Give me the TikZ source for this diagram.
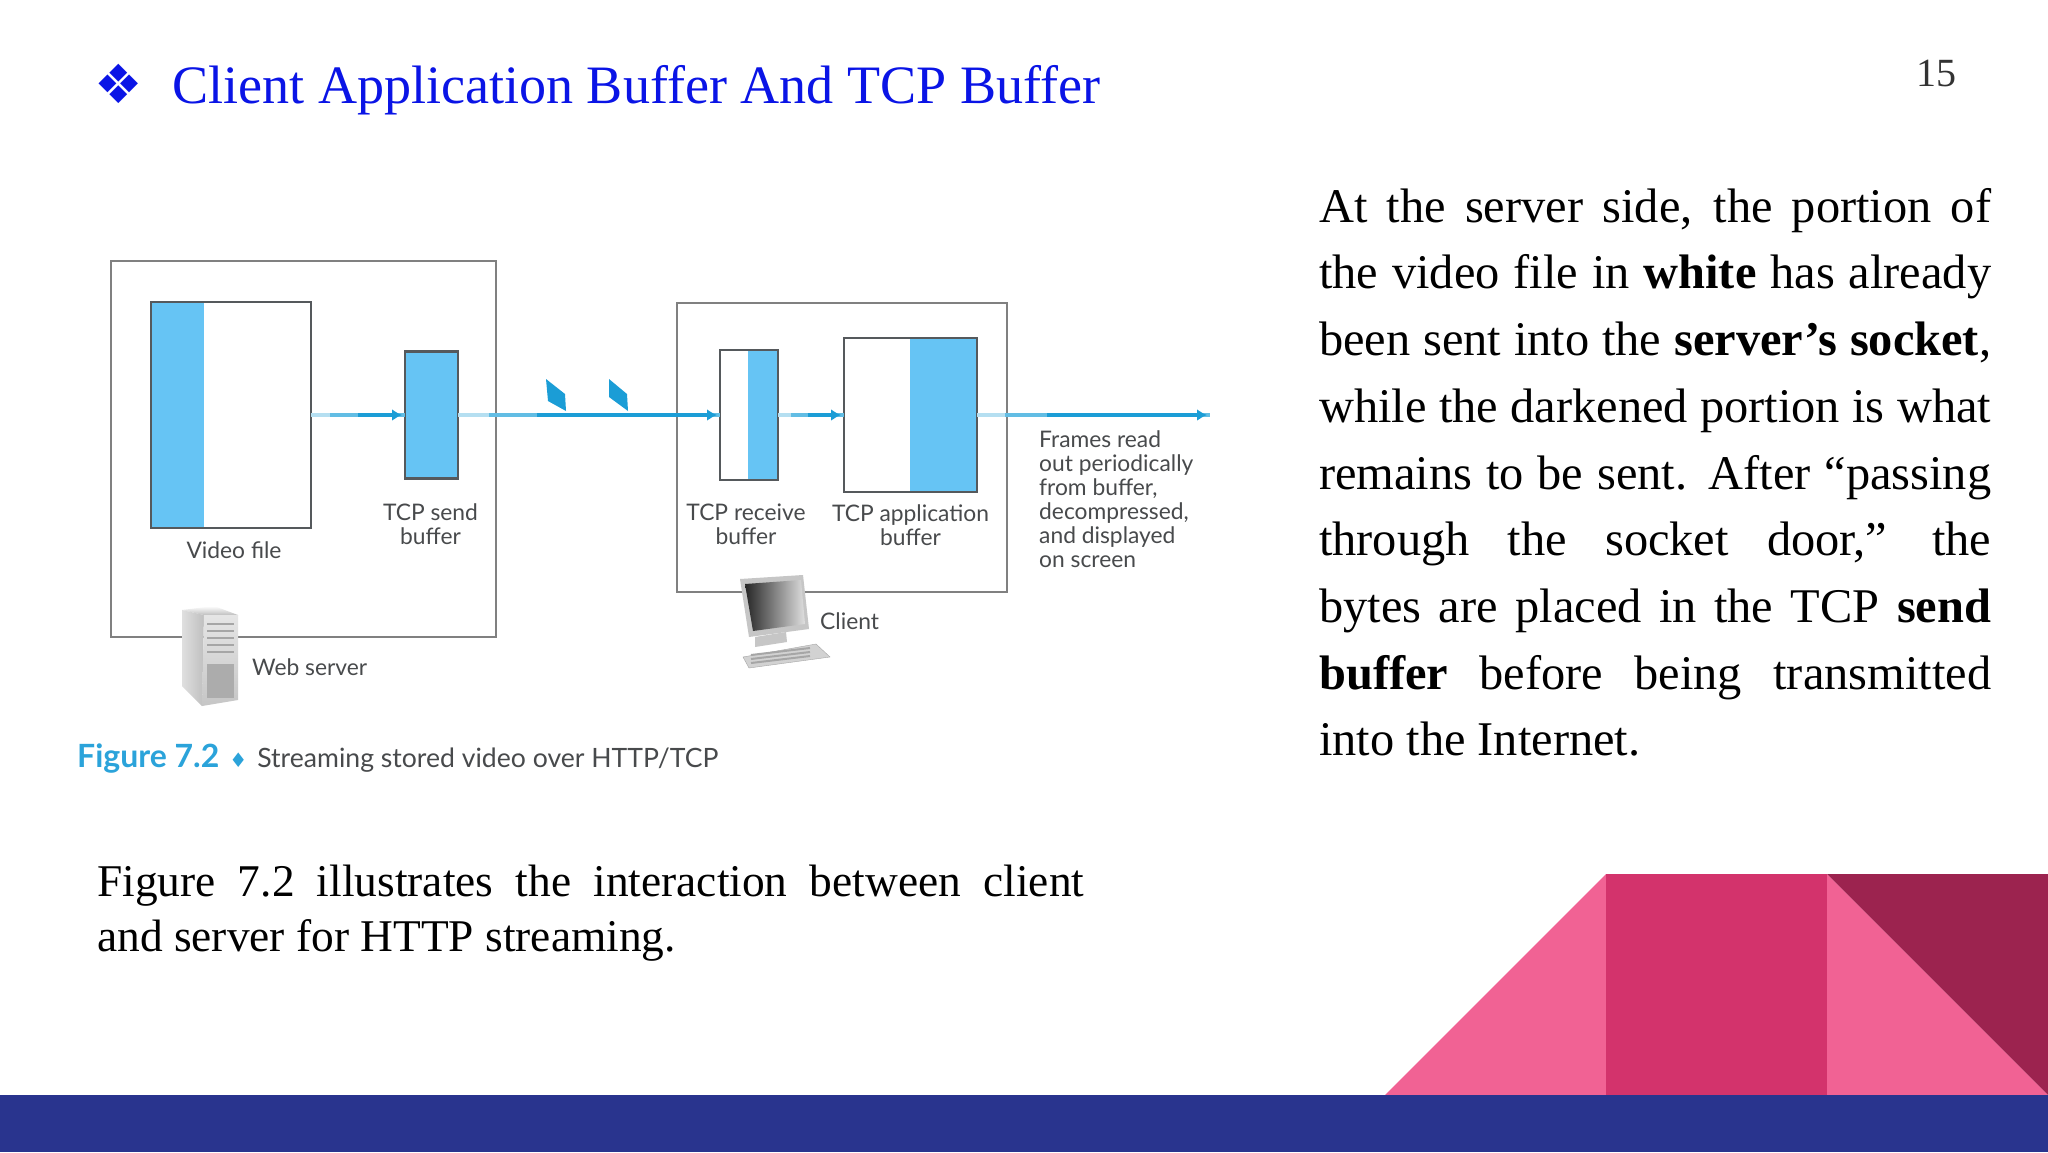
\documentclass[tikz,border=0pt]{standalone}
\usepackage{fontspec}
\setmainfont{Liberation Serif}
\newfontfamily\figfont{Lato}
\newfontfamily\symfont{DejaVu Sans}
\usetikzlibrary{arrows.meta,positioning,calc}
\definecolor{Navy}{HTML}{29348E}
\definecolor{LightPink}{HTML}{F16294}
\definecolor{MidPink}{HTML}{D3336C}
\definecolor{DarkPink}{HTML}{9C234F}
\definecolor{SkyFill}{HTML}{66C4F4}
\definecolor{FlowBlue}{HTML}{1B9DD6}
\definecolor{FlowMid}{HTML}{62BDE4}
\definecolor{FlowPale}{HTML}{B5DFF1}
\definecolor{FrameGray}{HTML}{808080}
\definecolor{EdgeGray}{HTML}{55595C}
\definecolor{LabelGray}{HTML}{484A4C}
\definecolor{TitleBlue}{HTML}{0A14E6}
\definecolor{CaptionBlue}{HTML}{2BA3DA}

\begin{document}
\begin{tikzpicture}[x=1pt, y=-1pt, node distance=13pt,
  frame/.style={draw=FrameGray, line width=2.5pt, inner sep=0pt, outer sep=0pt},
  bufbox/.style={draw=EdgeGray, line width=2.5pt, inner sep=0pt, outer sep=0pt},
  lbl/.style={font=\figfont\fontsize{22.8}{24}\selectfont, text=LabelGray, align=center, inner sep=0pt},
  para/.style={inner sep=0pt, align=justify, anchor=north west, text=black},
  flowlite/.style={draw=FlowPale, line width=3.5pt},
  flowhalf/.style={draw=FlowMid, line width=3.5pt},
  flow/.style={draw=FlowBlue, line width=4pt, shorten >=3pt, -{Latex[length=10pt,width=12pt]}}]
  \useasboundingbox (0,0) rectangle (2048,1152);
  \fill[white] (0,0) rectangle (2048,1152);

  \fill[LightPink] (1385,1095) -- (1606,874) -- (1606,1095) -- cycle;
  \fill[MidPink] (1606,874) rectangle (1827,1095);
  \fill[LightPink] (1827,874) -- (2048,1095) -- (1827,1095) -- cycle;
  \fill[DarkPink] (1827,874) -- (2048,874) -- (2048,1095) -- cycle;
  \fill[Navy] (0,1095) rectangle (2048,1152);

  \node[anchor=center, font=\symfont\fontsize{54}{54}\selectfont, text=TitleBlue, inner sep=0pt] (bullet) at (119,84) {❖};
  \node[anchor=west, font=\fontsize{54.1}{60}\selectfont, text=TitleBlue, inner sep=0pt] (title) at (172,90) {Client Application Buffer And TCP Buffer};
  \node[font=\fontsize{40}{40}\selectfont, text=black!80, inner sep=0pt] (pageno) at (1936,73) {15};

  \node[frame, minimum width=385pt, minimum height=376pt] (server) at (303.5,449) {};
  \node[frame, minimum width=330pt, minimum height=289pt] (client) at (842,447.5) {};

  \fill[SkyFill] (151,302) rectangle (204,528);
  \node[bufbox, minimum width=160pt, minimum height=226pt] (video) at (231,415) {};
  \node[bufbox, fill=SkyFill, minimum width=53pt, minimum height=127pt] (send) at (431.5,415) {};
  \fill[SkyFill] (748,350) rectangle (778,480);
  \node[bufbox, minimum width=58pt, minimum height=130pt] (receive) at (749,415) {};
  \fill[SkyFill] (910,338) rectangle (977,492);
  \node[bufbox, minimum width=133pt, minimum height=154pt] (appbuf) at (910.5,415) {};

  \node[lbl, below=13pt of video, xshift=3pt] (videolbl) {Video file};
  \node[lbl, below=25pt of send, xshift=-1pt] (sendlbl) {TCP send\\buffer};
  \node[lbl, below=24pt of receive, xshift=-3pt] (receivelbl) {TCP receive\\buffer};
  \node[lbl, below=12pt of appbuf] (applbl) {TCP application\\buffer};
  \node[lbl, align=left, anchor=north west] (frameslbl) at (1039,430) {Frames read\\out periodically\\from buffer,\\decompressed,\\and displayed\\on screen};

  \coordinate (out) at (1210,415);
  \foreach \a/\b/\s/\t in {video/send/.2/.5, send/receive/.12/.3, receive/appbuf/.2/.45, appbuf/out/.12/.3} {
    \draw[flowlite] (\a.east) -- (\b.west);
    \draw[flowhalf] ($(\a.east)!\s!(\b.west)$) -- (\b.west);
    \draw[flow] ($(\a.east)!\t!(\b.west)$) -- (\b.west);
  }
  \path[fill=FlowBlue] (546,379) -- (565,394) -- (566,411) -- (548,401) -- cycle;
  \path[fill=FlowBlue] (609,379) -- (627,394) -- (628,411) -- (609,397) -- cycle;

  \shade[top color=white, bottom color=gray!50] (182,610) -- (214,606) -- (238,615) -- (204,615) -- cycle;
  \shade[left color=gray!25, right color=gray!50] (182,610) -- (204,615) -- (202,706) -- (182,686) -- cycle;
  \shade[top color=gray!20, bottom color=gray!45] (204,615) -- (238,615) -- (238,700) -- (202,706) -- cycle;
  \foreach \y in {624,631,638,645,652} {
    \draw[gray!70, line width=2pt] (207,\y) -- (234,\y);
  }
  \fill[gray!65] (207,664) rectangle (234,698);
  \node[lbl, anchor=west] (weblbl) at (252,667) {Web server};

  \fill[gray!45] (755,637) -- (786,632) -- (787,642) -- (755,647) -- cycle;
  \fill[gray!45] (740,579) -- (803,575) -- (809,629) -- (749,637) -- cycle;
  \shade[shading angle=60, left color=black!85, right color=gray!25] (745,584) -- (801,580) -- (805,624) -- (753,631) -- cycle;
  \fill[gray!35, draw=gray!70] (743,657) -- (816,644) -- (830,657) -- (749,668) -- cycle;
  \foreach \s in {0,4,8} {
    \draw[gray!70, line width=2pt] (751,{655+\s}) -- (810,{648+\s});
  }
  \node[lbl, anchor=west] (clientlbl) at (820,621) {Client};

  \node[anchor=west, inner sep=0pt, font=\figfont\fontsize{26.6}{30}\selectfont, text=LabelGray] (caption) at (77,759)
    {{\fontsize{32}{30}\selectfont\bfseries\color{CaptionBlue}Figure 7.2}\hspace{10pt}{\symfont\fontsize{20}{20}\selectfont\color{CaptionBlue}♦}\hspace{10pt}Streaming stored video over HTTP/TCP};

  \node[para, text width=987pt, font=\fontsize{45.4}{55}\selectfont] (leftpara) at (97,865)
    {Figure 7.2 illustrates the interaction between client\linebreak and server for HTTP streaming.};
  \node[para, text width=672pt, font=\fontsize{48.4}{66.7}\selectfont] (rightpara) at (1319,188)
    {At the server side, the portion of\linebreak the video file in \textbf{white} has already\linebreak been sent into the \textbf{server’s socket},\linebreak while the darkened portion is what\linebreak remains to be sent. After “passing\linebreak through the socket door,” the\linebreak bytes are placed in the TCP \textbf{send}\linebreak \textbf{buffer} before being transmitted\linebreak into the Internet.};
\end{tikzpicture}
\end{document}
